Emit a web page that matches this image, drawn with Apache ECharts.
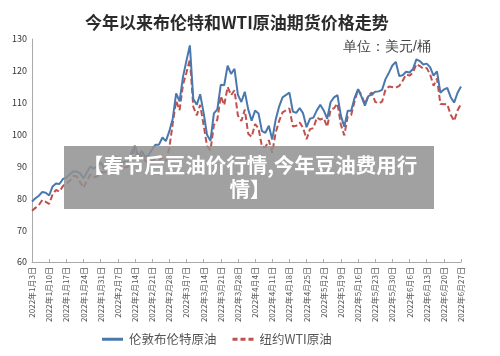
<!DOCTYPE html>
<html>
<head>
<meta charset="utf-8">
<script src="https://cdn.jsdelivr.net/npm/echarts@6/dist/echarts.min.js"></script>
<style>html,body{margin:0;padding:0;background:#fff;}#c{width:500px;height:356px;}</style>
</head>
<body>
<div id="c"></div>
<script>
// Trading days (weekdays) 2022-01-03 .. 2022-06-27, as "M/D"
const dates = [
 '1/3','1/4','1/5','1/6','1/7','1/10','1/11','1/12','1/13','1/14','1/17','1/18','1/19','1/20','1/21','1/24','1/25','1/26','1/27','1/28','1/31',
 '2/1','2/2','2/3','2/4','2/7','2/8','2/9','2/10','2/11','2/14','2/15','2/16','2/17','2/18','2/21','2/22','2/23','2/24','2/25','2/28',
 '3/1','3/2','3/3','3/4','3/7','3/8','3/9','3/10','3/11','3/14','3/15','3/16','3/17','3/18','3/21','3/22','3/23','3/24','3/25','3/28','3/29','3/30','3/31',
 '4/1','4/4','4/5','4/6','4/7','4/8','4/11','4/12','4/13','4/14','4/15','4/18','4/19','4/20','4/21','4/22','4/25','4/26','4/27','4/28','4/29',
 '5/2','5/3','5/4','5/5','5/6','5/9','5/10','5/11','5/12','5/13','5/16','5/17','5/18','5/19','5/20','5/23','5/24','5/25','5/26','5/27','5/30','5/31',
 '6/1','6/2','6/3','6/6','6/7','6/8','6/9','6/10','6/13','6/14','6/15','6/16','6/17','6/20','6/21','6/22','6/23','6/24','6/27'
];
// 伦敦布伦特原油 (USD/bbl)
const brent = [
 78.98,80.00,80.80,81.99,81.75,80.87,83.72,84.67,84.47,86.06,86.48,87.51,88.44,88.38,87.89,86.27,88.20,89.96,89.34,90.03,91.21,
 89.16,89.47,91.11,93.27,92.69,90.78,91.55,91.41,94.44,96.48,93.28,94.81,92.97,93.54,95.39,96.84,96.84,99.08,97.93,100.99,
 104.97,112.93,110.46,118.11,123.21,127.98,111.14,109.33,112.67,106.90,99.91,98.02,106.64,107.93,115.62,115.48,121.60,119.03,120.65,112.48,110.23,113.45,107.91,
 104.39,107.53,106.64,101.07,100.58,102.78,98.48,104.64,108.78,111.70,null,113.16,107.25,106.80,108.33,106.65,102.32,104.99,105.32,107.59,109.34,
 107.58,104.97,110.14,111.69,112.39,105.94,102.46,107.51,107.45,111.55,114.24,111.93,109.11,112.04,112.55,113.42,113.56,114.03,117.40,119.43,121.67,122.84,
 118.40,118.60,119.72,119.51,120.57,123.58,123.07,122.01,122.27,121.17,118.51,119.81,113.12,114.13,114.65,111.74,110.05,113.12,115.09
];
// 纽约WTI原油 (USD/bbl)
const wti = [
 76.08,76.99,77.85,79.46,78.90,78.23,81.22,82.64,82.12,83.82,null,85.43,86.96,86.90,85.14,83.31,85.60,87.35,86.61,86.82,88.15,
 88.20,88.26,90.27,92.31,91.32,89.36,89.66,89.88,93.10,95.46,92.07,93.66,91.76,91.07,null,92.35,92.10,92.81,91.59,95.72,
 103.41,110.60,107.67,115.68,119.40,123.70,108.70,106.02,109.33,103.01,96.44,95.04,102.98,104.70,112.12,109.27,114.93,112.34,113.90,105.96,104.24,107.82,100.28,
 99.27,103.28,101.96,96.23,96.03,98.26,94.29,100.60,104.25,106.95,null,108.21,102.56,102.75,103.79,102.07,98.54,101.70,102.02,105.36,104.69,
 105.17,102.41,107.81,108.26,109.77,103.09,99.76,105.71,106.13,110.49,114.20,112.40,109.59,112.21,113.23,110.29,109.77,110.33,114.09,115.07,null,114.67,
 115.26,116.87,118.87,118.50,119.41,122.11,121.51,120.67,120.93,118.93,115.31,117.59,109.56,null,109.52,106.19,104.27,107.62,109.57
];
const yTicks = {min: 60, max: 130, interval: 10};
const FONT = '"Noto Sans CJK SC", "Noto Sans", sans-serif';

const chart = echarts.init(document.getElementById('c'), null, {renderer: 'canvas'});
chart.setOption({
  animation: false,
  textStyle: {fontFamily: FONT},
  title: {
    text: '今年以来布伦特和WTI原油期货价格走势',
    left: 80, top: 9,
    textStyle: {fontSize: 17, fontWeight: 'bold', color: '#2b2b2b', fontFamily: FONT}
  },
  legend: {
    left: 97, top: 328,
    itemWidth: 21, itemHeight: 3, itemGap: 16,
    textStyle: {fontSize: 12.5, color: '#555', fontFamily: FONT, padding: [0, 0, 0, 1]},
    data: [
      {name: '伦敦布伦特原油', icon: 'path://M0,0H21V3H0Z', itemStyle: {color: '#4a78ad'}},
      {name: '纽约WTI原油', icon: 'path://M0,0H5V3H0Z M8,0H13V3H8Z M16,0H21V3H16Z', itemStyle: {color: '#c0504d'}}
    ]
  },
  grid: {left: 32, right: 39, top: 39, bottom: 94, containLabel: false},
  xAxis: {
    type: 'category',
    data: dates,
    boundaryGap: false,
    axisLine: {lineStyle: {color: '#aaa', width: 1}},
    axisTick: {show: true, inside: true, length: 3, interval: 4, lineStyle: {color: '#aaa'}},
    axisLabel: {
      interval: 4, rotate: 90, fontSize: 8, color: '#555', margin: 5,
      formatter: v => { const p = v.split('/'); return '2022年' + p[0] + '月' + p[1] + '日'; }
    },
    splitLine: {show: false}
  },
  yAxis: {
    type: 'value',
    min: yTicks.min, max: yTicks.max, interval: yTicks.interval,
    axisLine: {show: true, lineStyle: {color: '#aaa', width: 1}},
    axisTick: {show: false},
    axisLabel: {fontSize: 9, color: '#333', margin: 5},
    splitLine: {show: false}
  },
  series: [
    {
      name: '伦敦布伦特原油', type: 'line', data: brent, symbol: 'none', connectNulls: true,
      lineStyle: {color: '#4a78ad', width: 2}, itemStyle: {color: '#4a78ad'}, z: 3
    },
    {
      name: '纽约WTI原油', type: 'line', data: wti, symbol: 'none', connectNulls: true,
      lineStyle: {color: '#c0504d', width: 2, type: [6, 3]}, itemStyle: {color: '#c0504d'}, z: 2
    }
  ],
  graphic: [
    {
      type: 'text', left: 343, top: 40, z: 10,
      style: {text: '单位：美元/桶', fontSize: 14, fill: '#444', font: '14px ' + FONT}
    },
    {
      type: 'rect', z: 100,
      shape: {x: 64, y: 146, width: 370, height: 63},
      style: {fill: 'rgba(145,145,145,0.85)'}
    },
    {
      type: 'text', z: 101, x: 250, y: 153,
      style: {
        text: '【春节后豆油价行情,今年豆油费用行\n情】',
        fill: '#fff', align: 'center', verticalAlign: 'top',
        font: 'bold 20.5px ' + FONT, lineHeight: 24
      }
    }
  ]
});
</script>
</body>
</html>
